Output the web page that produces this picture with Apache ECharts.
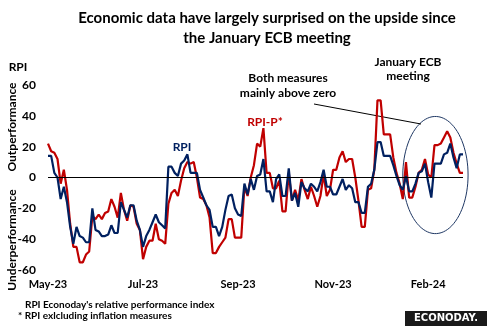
<!DOCTYPE html>
<html><head><meta charset="utf-8">
<script src="https://cdn.jsdelivr.net/npm/echarts@6/dist/echarts.min.js"></script>
<style>html,body{margin:0;padding:0;background:#fff}#c{width:489px;height:326px}</style>
</head><body><div id="c"></div>
<script>
const tickLabels = ['May-23', 'Jul-23', 'Sep-23', 'Nov-23', 'Feb-24'];
const labelEvery = 30;
const ecbMeetingIndex = 112;
const rpi = [14,14,3,0,-14,-6,-16,-32,-43,-32,-38,-39,-42,-42,-20,-34,-35,-38,-38,-37,
  -31,-36,-36,-16,-21,-26,-18,-18,-28,-34,-45,-38,-34,-29,-24,-29,-31,-33,7,7,
  3,1,9,11,15,3,3,3,-8,-13,-18,-21,-32,-32,-38,-32,-21,-12,-11,-20,
  -24,-25,-4,-11,-1,-8,1,2,12,-9,-9,-16,-1,2,-12,-12,6,-15,-10,-19,
  -3,-7,-9,-4,-6,-9,-3,5,-6,-6,-11,-11,-6,-1,-8,-5,-7,-16,-16,-23,
  -23,-6,-4,5,23,23,14,14,14,8,1,-5,-8,1,-9,-9,-4,3,4,9,
  -3,-13,9,9,9,15,16,22,13,6,15,15];
const rpiP = [22,17,16,12,-4,5,-8,-30,-45,-45,-55,-55,-50,-48,-25,-27,-24,-27,-23,-22,
  -14,-19,-26,-10,-21,-28,-18,-19,-30,-34,-53,-45,-41,-41,-30,-40,-41,-43,-17,-10,
  -8,-12,-2,6,10,9,10,0,-13,-14,-18,-26,-49,-49,-45,-42,-39,-27,-27,-39,
  -39,-39,-6,-12,0,8,22,20,32,3,3,-7,-7,-2,-22,-22,3,-15,-8,-15,
  -1,-8,-14,-6,-12,-19,-12,2,-12,-8,5,5,13,17,10,12,12,0,-15,-32,
  -32,-8,-7,5,50,50,28,28,28,13,3,-4,-14,10,-13,-13,-6,3,5,12,
  2,0,21,21,22,26,30,26,16,9,3,3];
const categories = rpi.map((_, i) => 'd' + i);

const FONT = 'Lato';
const chart = echarts.init(document.getElementById('c'), null, {renderer: 'canvas'});
chart.setOption({
  animation: false,
  backgroundColor: '#fff',
  title: {
    text: 'Economic data have largely surprised on the upside since\nthe January ECB meeting',
    left: 262, top: 3, textAlign: 'center',
    textStyle: {fontFamily: FONT, fontSize: 15, fontWeight: 'bold', color: '#000', lineHeight: 20}
  },
  grid: {left: 48, right: 26, top: 85, bottom: 56, containLabel: false},
  xAxis: {
    type: 'category', data: categories, boundaryGap: false,
    axisLine: {show: false}, axisTick: {show: false}, splitLine: {show: false},
    axisLabel: {
      interval: labelEvery - 1, margin: 9,
      fontFamily: FONT, fontSize: 11, fontWeight: 'bold', color: '#000',
      formatter: (v, i) => (i % labelEvery === 0 ? (tickLabels[i / labelEvery] || '') : '')
    }
  },
  yAxis: {
    type: 'value', min: -60, max: 60, interval: 20,
    axisLine: {show: false}, axisTick: {show: false}, splitLine: {show: false},
    axisLabel: {margin: 12, fontFamily: FONT, fontSize: 12, fontWeight: 'bold', color: '#000'}
  },
  series: [
    {
      name: 'RPI-P*', type: 'line', data: rpiP, symbol: 'none', clip: false,
      lineStyle: {color: '#C00000', width: 2.2}, itemStyle: {color: '#C00000'}, z: 2,
      markLine: {
        silent: true, symbol: 'none', label: {show: false},
        lineStyle: {color: '#000', width: 1, type: [3, 2]},
        data: [[{coord: [ecbMeetingIndex, 51]}, {coord: [ecbMeetingIndex, -67]}]]
      }
    },
    {
      name: 'RPI', type: 'line', data: rpi, symbol: 'none', clip: false,
      lineStyle: {color: '#002060', width: 2.2}, itemStyle: {color: '#002060'}, z: 3,
      markLine: {
        silent: true, symbol: 'none', label: {show: false},
        lineStyle: {color: '#000', width: 1, type: 'solid'},
        data: [{yAxis: 0}]
      }
    }
  ]
});

// Ellipse around the post-meeting period, positioned via the chart's own scales
const p0 = chart.convertToPixel({gridIndex: 0}, [0, 0]);
const pN = chart.convertToPixel({gridIndex: 0}, [rpi.length - 1, 0]);
const pY = chart.convertToPixel({gridIndex: 0}, [0, 10]);
const stepX = (pN[0] - p0[0]) / (rpi.length - 1);
const unitY = (p0[1] - pY[1]) / 10;
const ellCenter = [122.3, 1.6], ellRx = 10.3, ellRy = 38;
const cx = p0[0] + ellCenter[0] * stepX, cy = p0[1] - ellCenter[1] * unitY;
const ellPts = [];
for (let k = 0; k <= 90; k++) {
  const t = k / 90 * Math.PI * 2;
  ellPts.push([cx + ellRx * stepX * Math.cos(t), cy + ellRy * unitY * Math.sin(t)]);
}
const txt = (text, x, y, opts) => Object.assign({
  type: 'text', x, y,
  style: Object.assign({text, fontFamily: FONT, fontSize: 11, fontWeight: 'bold', fill: '#000', align: 'center', verticalAlign: 'middle'}, opts || {})
});
chart.setOption({
  graphic: [
    {type: 'polyline', shape: {points: ellPts}, style: {stroke: '#1F3864', lineWidth: 1, fill: null}, silent: true},
    {type: 'line', shape: {x1: 314, y1: 104, x2: 421, y2: 124}, style: {stroke: '#000', lineWidth: 1}},
    txt('RPI', 18, 67, {fontSize: 12}),
    txt('Both measures', 288, 78, {fontSize: 12}),
    txt('mainly above zero', 288, 93, {fontSize: 12}),
    txt('January ECB', 408, 62, {fontSize: 12}),
    txt('meeting', 408, 76, {fontSize: 12}),
    txt('RPI', 182, 147, {fontSize: 12, fill: '#002060'}),
    txt('RPI-P*', 265, 122, {fontSize: 12, fill: '#C00000'}),
    Object.assign(txt('Outperformance', 12, 127, {fontSize: 12}), {rotation: Math.PI / 2}),
    Object.assign(txt('Underperformance', 12, 240, {fontSize: 12}), {rotation: Math.PI / 2}),
    txt("RPI Econoday's relative performance index", 25, 305, {fontSize: 10, align: 'left'}),
    txt('* RPI exlcluding inflation measures', 18, 316, {fontSize: 10, align: 'left'}),
    {type: 'rect', shape: {x: 405, y: 311, width: 82, height: 15}, style: {fill: '#1a1a1a'}},
    txt('ECONODAY.', 446, 318.5, {fontFamily: 'DejaVu Sans', fontSize: 10, fill: '#fff'})
  ]
});
</script>
</body></html>
